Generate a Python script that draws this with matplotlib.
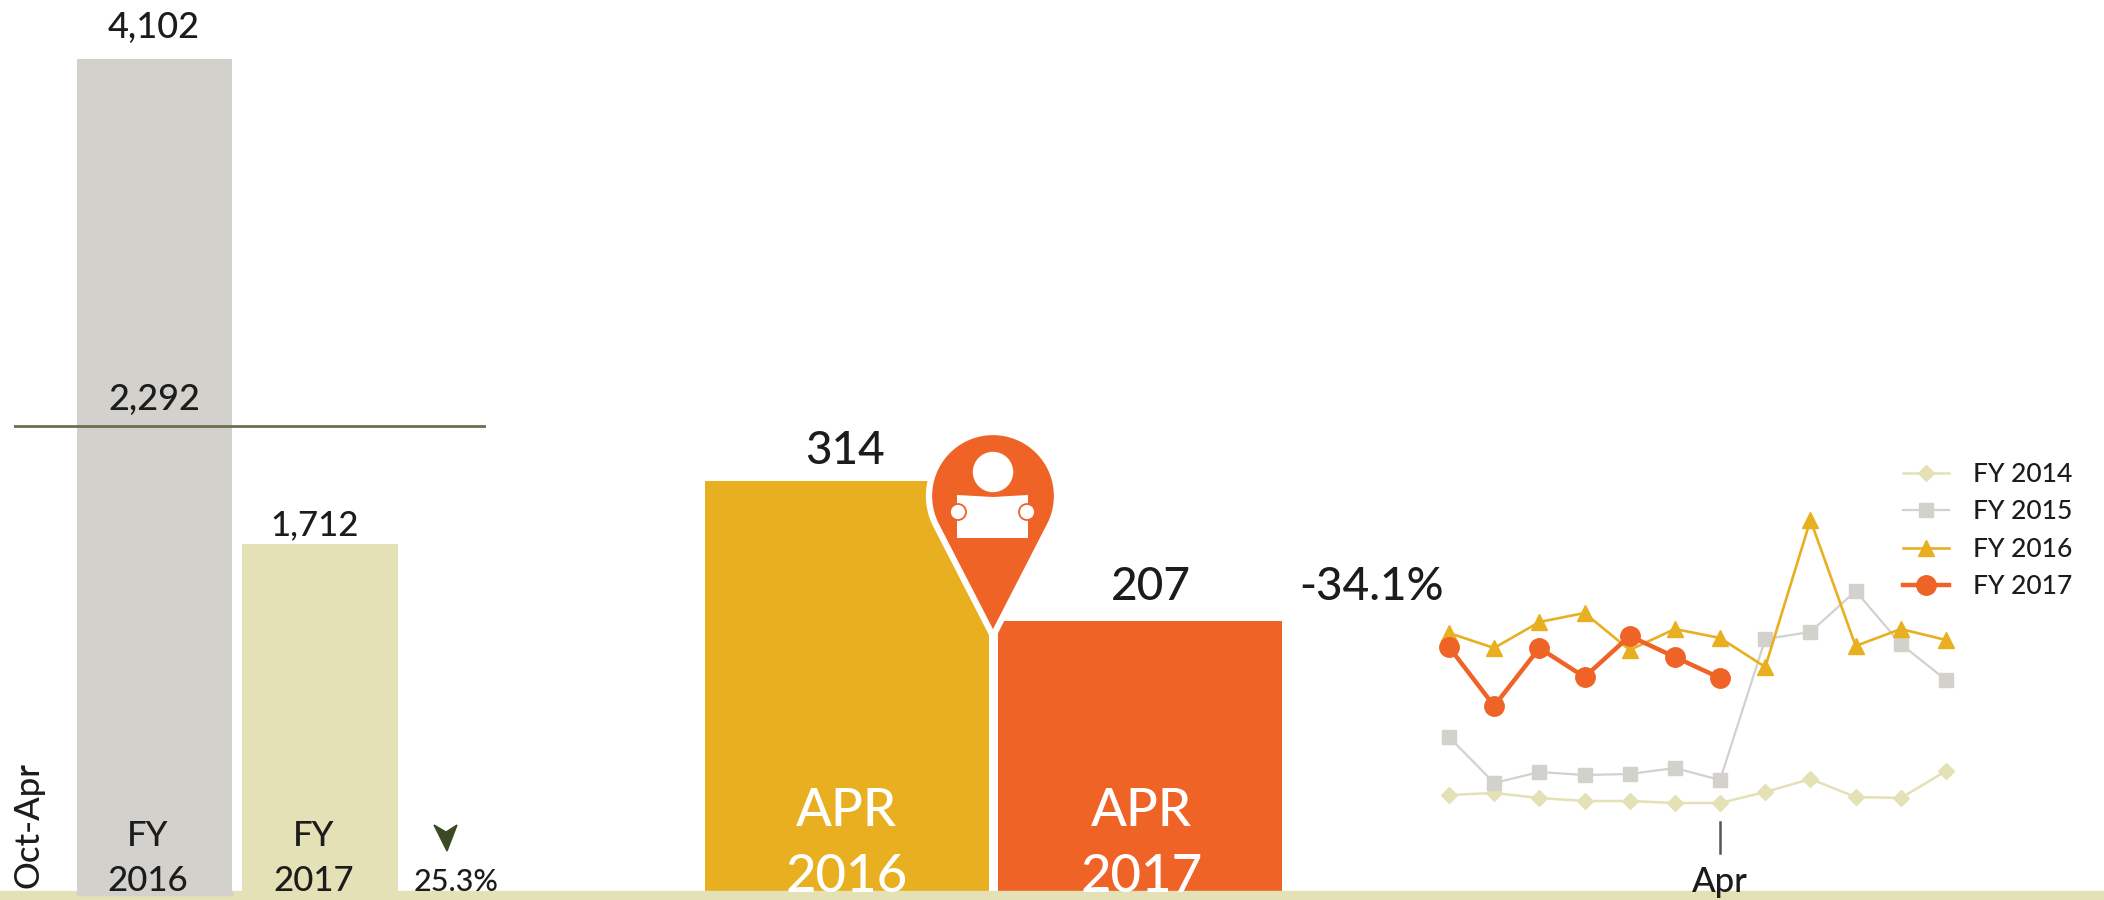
import numpy as np
import matplotlib
matplotlib.use("Agg")
import matplotlib.pyplot as plt
from matplotlib.patches import Polygon, Circle, Rectangle

plt.rcParams.update({
    "font.family": ["Lato", "DejaVu Sans"],
    "font.weight": "medium",
    "figure.dpi": 100,
})

# data
fy_labels = ["FY\n2016", "FY\n2017"]
fy_values = [4102, 1712]
fy_average = 2292
apr_labels = ["APR\n2016", "APR\n2017"]
apr_values = [314, 207]

# monthly lines, Oct to Sep (no scale in the picture, read as height above the band)
fy2014 = [96, 98, 93, 90, 90, 88, 88, 99, 112, 94, 93, 120]
fy2015 = [154, 108, 119, 116, 117, 123, 111, 252, 259, 300, 247, 211]
fy2016 = [258, 243, 269, 278, 241, 262, 253, 224, 371, 245, 262, 251]
fy2017 = [244, 185, 243, 214, 255, 234, 213]

GOLD = "#e8b020"
ORANGE = "#ef6327"
GREY = "#d2d1cb"
SAND = "#e3e1b5"
INK = "#1c1c1c"
W, H = 2104, 900
BASE = 891


def make_axes(x0, x1, y_top=0):
    # axes placed in reference pixels, bottom edge sits on the band
    ax = fig.add_axes([x0 / W, (H - BASE) / H, (x1 - x0) / W, (BASE - y_top) / H])
    ax.axis("off")
    return ax


fig = plt.figure(figsize=(W / 100, H / 100))

# left bars
ax_fy = make_axes(14, 486)
ax_fy.bar([0, 1], fy_values, width=0.937, color=[GREY, SAND])
ax_fy.axhline(fy_average, color="#6c6f52", linewidth=2)
ax_fy.set_xlim(-0.849, 2.003)
ax_fy.set_ylim(0, 4393)

# middle bars
ax_apr = make_axes(705, 1282)
ax_apr.bar([0, 1], apr_values, width=0.971, color=[GOLD, ORANGE])
ax_apr.set_xlim(-0.4855, 1.4855)
ax_apr.set_ylim(0, 682)

# monthly lines
ax_line = make_axes(1449, 1946)
ax_line.plot(range(12), fy2014, color=SAND, lw=1.8, marker="D", ms=8.5, clip_on=False, label="FY 2014")
ax_line.plot(range(12), fy2015, color=GREY, lw=1.6, marker="s", ms=10.5, clip_on=False, label="FY 2015")
ax_line.plot(range(12), fy2016, color=GOLD, lw=1.9, marker="^", ms=11.5, clip_on=False, label="FY 2016")
ax_line.plot(range(7), fy2017, color=ORANGE, lw=3.2, marker="o", ms=14, clip_on=False, label="FY 2017")
ax_line.set_xlim(0, 11)
ax_line.set_ylim(0, 891)
ax_line.legend(loc="upper left", bbox_to_anchor=(1903 / W, 1 - 462 / H), bbox_transform=fig.transFigure,
               frameon=False, fontsize=19, labelspacing=0.47, handlelength=1.75, handletextpad=0.9,
               borderpad=0, borderaxespad=0, labelcolor=INK)

# overlay in reference pixels for the band, pin and labels
ov = fig.add_axes([0, 0, 1, 1], facecolor="none")
ov.set_xlim(0, W)
ov.set_ylim(H, 0)
ov.axis("off")
ov.add_patch(Rectangle((0, BASE), W, H - BASE, color=SAND, zorder=1))
ov.add_patch(Rectangle((77, BASE), 155, 4, color=GREY, zorder=1))

# map pin
cx, cy, r, tip = 993, 496, 64, 636
d = tip - cy
a = np.arccos(r / d)
t = np.linspace(np.pi / 2 + a, 2 * np.pi + np.pi / 2 - a, 80)
pin = np.column_stack([cx + r * np.cos(t), cy + r * np.sin(t)])
pin = np.vstack([[cx, tip], pin])
ov.add_patch(Polygon(pin, closed=True, facecolor=ORANGE, edgecolor="white", linewidth=4.5, zorder=3))
ov.add_patch(Circle((cx, 472), 19.5, color="white", zorder=4))
ov.add_patch(Polygon([(957, 495), (993, 497), (1028, 495), (1028, 538), (957, 538)], closed=True,
                     facecolor="white", edgecolor="none", zorder=4))
for hand_x in (958, 1027):
    ov.add_patch(Circle((hand_x, 512), 8, facecolor="white", edgecolor=ORANGE, linewidth=1.3, zorder=5))

# decline arrow
ov.add_patch(Polygon([(434, 825), (446, 832), (457, 825), (447, 851)], closed=True, color="#3b4a22", zorder=3))

# april tick
ov.plot([1720, 1720], [822, 853], color="#555555", lw=1.8, zorder=3)


def label(x, y, s, size, color=INK, **kw):
    ov.text(x, y, s, fontsize=size, color=color, ha="center", va="center", zorder=6, **kw)


label(154, 27, f"{fy_values[0]:,}", 26)
label(154, 399, f"{fy_average:,}", 26)
label(315, 525, f"{fy_values[1]:,}", 25)
for x, s in zip((148, 314), fy_labels):
    top, bottom = s.split("\n")
    label(x, 836, top, 25)
    label(x, 881, bottom, 25)
label(456, 882, "25.3%", 22)
label(29, 825, "Oct-Apr", 25, rotation=90)
label(845, 451, str(apr_values[0]), 33)
label(1151, 587, str(apr_values[1]), 33)
label(1372, 587, "-34.1%", 33)
for x, s in zip((847, 1142), apr_labels):
    top, bottom = s.split("\n")
    label(x, 812, top, 38, color="white")
    label(x, 878, bottom, 38, color="white")
label(1720, 882, "Apr", 25)

fig.savefig("out.png", dpi=100)
